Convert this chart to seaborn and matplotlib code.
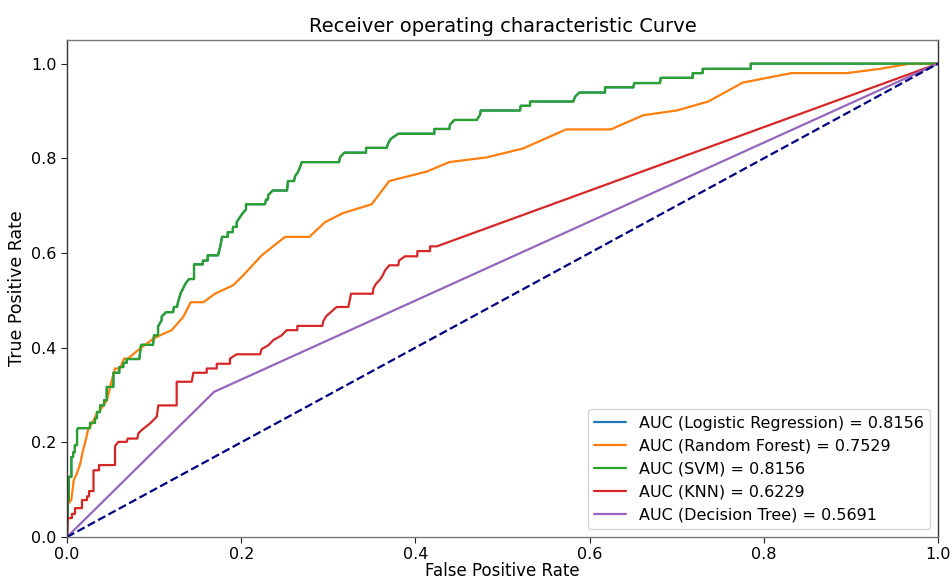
import numpy as np
import pandas as pd
import matplotlib
matplotlib.use("Agg")
import matplotlib.pyplot as plt
import seaborn as sns

# ---------------- data ----------------
models = ["Logistic Regression", "Random Forest", "SVM", "KNN", "Decision Tree"]
auc_values = [0.8156, 0.7529, 0.8156, 0.6229, 0.5691]

svm_fpr = [0, 0, 0.001, 0.001, 0.002, 0.002, 0.005, 0.005, 0.007, 0.007, 0.009, 0.009,
           0.0115, 0.0115, 0.0126, 0.0264, 0.0264, 0.0321, 0.0321, 0.0344, 0.0344, 0.0379,
           0.0379, 0.0425, 0.0425, 0.0456, 0.0456, 0.0532, 0.0532, 0.0600, 0.0600, 0.0646,
           0.0646, 0.0685, 0.0685, 0.0830, 0.0850, 0.0987, 0.0999, 0.1045, 0.1045, 0.1087,
           0.1087, 0.1137, 0.1217, 0.1228, 0.1263, 0.1274, 0.1305, 0.1332, 0.1363, 0.1401,
           0.1458, 0.1458, 0.1558, 0.1561, 0.1615, 0.1615, 0.1734, 0.1757, 0.1780, 0.1845,
           0.1845, 0.1902, 0.1906, 0.1948, 0.1948, 0.1975, 0.2017, 0.2055, 0.2055, 0.2273,
           0.2285, 0.2308, 0.2308, 0.2362, 0.2526, 0.2537, 0.2606, 0.2618, 0.2652, 0.2675,
           0.2695, 0.3123, 0.3134, 0.3184, 0.3433, 0.3433, 0.3670, 0.3689, 0.3716, 0.3804,
           0.4217, 0.4217, 0.4389, 0.4397, 0.4447, 0.4704, 0.4742, 0.4750, 0.5201, 0.5209,
           0.5316, 0.5316, 0.5813, 0.5832, 0.5882, 0.6177, 0.6177, 0.6502, 0.6513, 0.6808,
           0.6816, 0.7184, 0.7184, 0.7298, 0.7298, 0.7850, 0.7850, 1.0]
svm_tpr = [0, 0.036, 0.036, 0.078, 0.078, 0.127, 0.127, 0.169, 0.169, 0.179, 0.179, 0.194,
           0.194, 0.226, 0.230, 0.230, 0.241, 0.241, 0.251, 0.251, 0.264, 0.264,
           0.278, 0.278, 0.289, 0.289, 0.317, 0.317, 0.347, 0.347, 0.359, 0.359,
           0.368, 0.368, 0.376, 0.376, 0.406, 0.406, 0.426, 0.426, 0.445, 0.458,
           0.466, 0.475, 0.475, 0.486, 0.486, 0.496, 0.515, 0.525, 0.536, 0.545,
           0.545, 0.576, 0.576, 0.584, 0.584, 0.595, 0.595, 0.612, 0.634, 0.634,
           0.644, 0.644, 0.655, 0.655, 0.665, 0.673, 0.684, 0.692, 0.703, 0.703,
           0.713, 0.713, 0.722, 0.732, 0.732, 0.752, 0.752, 0.762, 0.771, 0.781,
           0.792, 0.792, 0.802, 0.812, 0.812, 0.822, 0.822, 0.832, 0.841, 0.852,
           0.852, 0.862, 0.862, 0.871, 0.881, 0.881, 0.892, 0.901, 0.901, 0.911,
           0.911, 0.920, 0.920, 0.930, 0.939, 0.939, 0.950, 0.950, 0.959, 0.959,
           0.970, 0.970, 0.980, 0.980, 0.989, 0.989, 1.0, 1.0]

# Logistic regression curve is identical to the SVM curve (same AUC)
lr_fpr = list(svm_fpr)
lr_tpr = list(svm_tpr)

rf_fpr = [0, 0, 0.0049, 0.0077, 0.0115, 0.0153, 0.0180, 0.0210, 0.0241, 0.0307, 0.0344,
          0.0379, 0.0459, 0.0494, 0.0551, 0.0608, 0.0654, 0.0700, 0.0838, 0.0991, 0.1068,
          0.1202, 0.1335, 0.1420, 0.1565, 0.1699, 0.1909, 0.2024, 0.2235, 0.2503, 0.2782,
          0.2962, 0.3165, 0.3498, 0.3700, 0.4130, 0.4389, 0.4819, 0.5239, 0.5729, 0.6242,
          0.6616, 0.7000, 0.7363, 0.7758, 0.8320, 0.8952, 0.9334, 0.9679, 1.0]
rf_tpr = [0, 0.068, 0.078, 0.120, 0.135, 0.156, 0.180, 0.201, 0.226, 0.247, 0.262,
          0.268, 0.289, 0.317, 0.356, 0.356, 0.377, 0.377, 0.398, 0.419, 0.426,
          0.437, 0.465, 0.496, 0.496, 0.514, 0.532, 0.553, 0.595, 0.634, 0.634,
          0.665, 0.684, 0.703, 0.752, 0.772, 0.792, 0.802, 0.821, 0.861, 0.861,
          0.891, 0.901, 0.920, 0.960, 0.980, 0.980, 0.989, 1.0, 1.0]

knn_fpr = [0, 0.0011, 0.0057, 0.0057, 0.0092, 0.0092, 0.0172, 0.0172, 0.0230, 0.0230,
           0.0253, 0.0253, 0.0304, 0.0304, 0.0367, 0.0367, 0.0551, 0.0551, 0.0589, 0.0685,
           0.0697, 0.0807, 0.0819, 0.0858, 0.0953, 0.1030, 0.1048, 0.1259, 0.1259, 0.1432,
           0.1450, 0.1604, 0.1604, 0.1719, 0.1719, 0.1871, 0.1871, 0.1948, 0.2216, 0.2235,
           0.2311, 0.2369, 0.2465, 0.2522, 0.2644, 0.2644, 0.2931, 0.2943, 0.2974, 0.3028,
           0.3096, 0.3230, 0.3261, 0.3510, 0.3517, 0.3548, 0.3594, 0.3625, 0.3651, 0.3700,
           0.3804, 0.3812, 0.3881, 0.4022, 0.4022, 0.4168, 0.4168, 0.4245, 1.0]
knn_tpr = [0, 0.040, 0.040, 0.049, 0.049, 0.061, 0.061, 0.078, 0.078, 0.086,
           0.086, 0.097, 0.097, 0.141, 0.141, 0.152, 0.152, 0.192, 0.201, 0.201,
           0.208, 0.208, 0.219, 0.226, 0.240, 0.254, 0.278, 0.278, 0.328, 0.328,
           0.347, 0.347, 0.356, 0.356, 0.366, 0.366, 0.377, 0.386, 0.386, 0.397,
           0.405, 0.416, 0.426, 0.437, 0.437, 0.446, 0.446, 0.456, 0.466, 0.475,
           0.486, 0.486, 0.514, 0.514, 0.525, 0.535, 0.544, 0.553, 0.563, 0.574,
           0.574, 0.584, 0.593, 0.593, 0.604, 0.604, 0.614, 0.614, 1.0]

dt_fpr = [0, 0.1688, 1.0]
dt_tpr = [0, 0.3066, 1.0]

chance_x = [0, 1]
chance_y = [0, 1]

x_ticks = [0.0, 0.2, 0.4, 0.6, 0.8, 1.0]
y_ticks = [0.0, 0.2, 0.4, 0.6, 0.8, 1.0]

# ---------------- build table ----------------
curves = [(lr_fpr, lr_tpr), (rf_fpr, rf_tpr), (svm_fpr, svm_tpr),
          (knn_fpr, knn_tpr), (dt_fpr, dt_tpr)]
rows = []
labels = []
for name, auc, (fx, ty) in zip(models, auc_values, curves):
    lab = "AUC ({}) = {:.4f}".format(name, auc)
    labels.append(lab)
    for i, (a, b) in enumerate(zip(fx, ty)):
        rows.append({"model": lab, "order": i, "fpr": a, "tpr": b})
df = pd.DataFrame(rows)

# ---------------- plot ----------------
sns.set_style("ticks")
plt.rcParams["font.family"] = ["DejaVu Sans"]
plt.rcParams["text.color"] = "black"
plt.rcParams["axes.labelcolor"] = "black"
plt.rcParams["xtick.color"] = "black"
plt.rcParams["ytick.color"] = "black"

fig = plt.figure(figsize=(9.52, 5.81), dpi=100)
ax = fig.add_axes([0.0704, 0.0757, 0.9149, 0.8555])

palette = ["#1f77b4", "#ff7f0e", "#2ca02c", "#d62728", "#9467bd"]
for lab, col in zip(labels, palette):
    sub = df[df["model"] == lab]
    sns.lineplot(data=sub, x="fpr", y="tpr", sort=False, estimator=None,
                 color=col, linewidth=1.6, label=lab, ax=ax)

ax.plot(chance_x, chance_y, color="navy", linewidth=1.6, linestyle="--")

ax.set_xlim(0, 1)
ax.set_ylim(0, 1.05)
ax.set_xticks(x_ticks)
ax.set_yticks(y_ticks)
ax.set_xticklabels(["{:.1f}".format(v) for v in x_ticks], fontsize=11.5)
ax.set_yticklabels(["{:.1f}".format(v) for v in y_ticks], fontsize=11.5)
ax.tick_params(direction="out", length=4, width=0.8, colors="#222222", labelcolor="black")
ax.set_xlabel("False Positive Rate", fontsize=12, labelpad=0)
ax.set_ylabel("True Positive Rate", fontsize=12.5, labelpad=4)
ax.set_title("Receiver operating characteristic Curve", fontsize=14, pad=6)

for s in ["left", "right"]:
    ax.spines[s].set_color("#333333")
for s in ["top", "bottom"]:
    ax.spines[s].set_color("#777777")
for s in ax.spines.values():
    s.set_linewidth(1.0)

leg = ax.legend(loc="lower right", fontsize=11.5, frameon=True, framealpha=0.8,
                edgecolor="#cccccc", fancybox=True, handlelength=2.0)

fig.savefig("out.png", dpi=100)
